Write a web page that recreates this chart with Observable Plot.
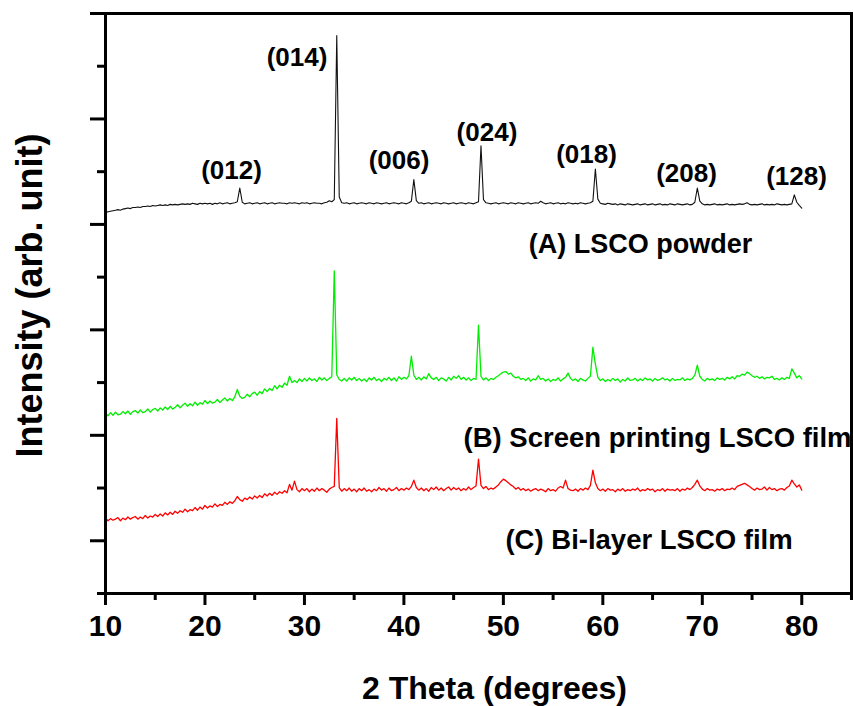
<!DOCTYPE html>
<html>
<head>
<meta charset="utf-8">
<script src="https://cdn.jsdelivr.net/npm/d3@7"></script>
<script src="https://cdn.jsdelivr.net/npm/@observablehq/plot@0.6"></script>
<style>
  html, body { margin: 0; padding: 0; background: #fff; }
  svg { display: block; }
</style>
</head>
<body>
<div id="chart"></div>
<script>
// 2θ scan positions (degrees)
const twoTheta = [
  10,10.25,10.5,10.75, 11,11.25,11.5,11.75, 12,12.25,12.5,12.75, 13,13.25,13.5,13.75,
  14,14.25,14.5,14.75, 15,15.25,15.5,15.75, 16,16.25,16.5,16.75, 17,17.25,17.5,17.75,
  18,18.25,18.5,18.75, 19,19.25,19.5,19.75, 20,20.25,20.5,20.75, 21,21.25,21.5,21.75,
  22,22.25,22.5,22.75, 23,23.25,23.5,23.75, 24,24.25,24.5,24.75, 25,25.25,25.5,25.75,
  26,26.25,26.5,26.75, 27,27.25,27.5,27.75, 28,28.25,28.5,28.75, 29,29.25,29.5,29.75,
  30,30.25,30.5,30.75, 31,31.25,31.5,31.75, 32,32.25,32.5,32.75, 33,33.25,33.5,33.75,
  34,34.25,34.5,34.75, 35,35.25,35.5,35.75, 36,36.25,36.5,36.75, 37,37.25,37.5,37.75,
  38,38.25,38.5,38.75, 39,39.25,39.5,39.75, 40,40.25,40.5,40.75, 41,41.25,41.5,41.75,
  42,42.25,42.5,42.75, 43,43.25,43.5,43.75, 44,44.25,44.5,44.75, 45,45.25,45.5,45.75,
  46,46.25,46.5,46.75, 47,47.25,47.5,47.75, 48,48.25,48.5,48.75, 49,49.25,49.5,49.75,
  50,50.25,50.5,50.75, 51,51.25,51.5,51.75, 52,52.25,52.5,52.75, 53,53.25,53.5,53.75,
  54,54.25,54.5,54.75, 55,55.25,55.5,55.75, 56,56.25,56.5,56.75, 57,57.25,57.5,57.75,
  58,58.25,58.5,58.75, 59,59.25,59.5,59.75, 60,60.25,60.5,60.75, 61,61.25,61.5,61.75,
  62,62.25,62.5,62.75, 63,63.25,63.5,63.75, 64,64.25,64.5,64.75, 65,65.25,65.5,65.75,
  66,66.25,66.5,66.75, 67,67.25,67.5,67.75, 68,68.25,68.5,68.75, 69,69.25,69.5,69.75,
  70,70.25,70.5,70.75, 71,71.25,71.5,71.75, 72,72.25,72.5,72.75, 73,73.25,73.5,73.75,
  74,74.25,74.5,74.75, 75,75.25,75.5,75.75, 76,76.25,76.5,76.75, 77,77.25,77.5,77.75,
  78,78.25,78.5,78.75, 79,79.25,79.5,79.75, 80
];

// (A) LSCO powder (arb. unit, offset)
const powderA = [
  7.22,7.24,7.25,7.26, 7.27,7.28,7.27,7.29, 7.30,7.31,7.30,7.32, 7.32,7.33,7.32,7.34,
  7.34,7.35,7.34,7.36, 7.35,7.36,7.37,7.36, 7.37,7.36,7.38,7.37, 7.38,7.37,7.38,7.39,
  7.38,7.39,7.38,7.40, 7.39,7.38,7.40,7.39, 7.40,7.39,7.40,7.38, 7.40,7.39,7.41,7.39,
  7.40,7.41,7.39,7.40, 7.41,7.43,7.69,7.42, 7.39,7.40,7.41,7.39, 7.40,7.41,7.39,7.40,
  7.41,7.39,7.40,7.41, 7.39,7.40,7.41,7.40, 7.40,7.39,7.41,7.40, 7.41,7.40,7.39,7.41,
  7.40,7.41,7.39,7.40, 7.41,7.40,7.40,7.39, 7.41,7.42,7.45,7.43, 7.47,10.58,7.52,7.41,
  7.40,7.41,7.39,7.40, 7.41,7.39,7.40,7.41, 7.40,7.39,7.41,7.40, 7.39,7.41,7.40,7.39,
  7.40,7.41,7.39,7.40, 7.41,7.40,7.39,7.41, 7.40,7.39,7.41,7.44, 7.85,7.45,7.40,7.41,
  7.39,7.40,7.41,7.39, 7.40,7.41,7.40,7.39, 7.41,7.40,7.39,7.40, 7.41,7.39,7.40,7.41,
  7.40,7.39,7.41,7.40, 7.39,7.41,7.43,8.49, 7.47,7.41,7.40,7.39, 7.40,7.41,7.39,7.40,
  7.41,7.40,7.39,7.41, 7.40,7.39,7.41,7.40, 7.39,7.40,7.41,7.39, 7.40,7.41,7.40,7.44,
  7.41,7.39,7.40,7.41, 7.39,7.40,7.41,7.39, 7.40,7.39,7.41,7.40, 7.39,7.40,7.39,7.41,
  7.40,7.39,7.40,7.41, 7.44,8.05,7.48,7.40, 7.39,7.38,7.40,7.39, 7.38,7.39,7.37,7.39,
  7.38,7.37,7.39,7.38, 7.37,7.38,7.39,7.37, 7.38,7.39,7.37,7.38, 7.39,7.37,7.38,7.39,
  7.37,7.38,7.37,7.39, 7.38,7.37,7.39,7.38, 7.37,7.38,7.39,7.37, 7.38,7.42,7.69,7.44,
  7.39,7.37,7.38,7.37, 7.38,7.39,7.37,7.38, 7.37,7.38,7.39,7.37, 7.38,7.37,7.38,7.39,
  7.38,7.39,7.41,7.38, 7.37,7.38,7.37,7.38, 7.39,7.37,7.38,7.37, 7.38,7.37,7.39,7.38,
  7.37,7.38,7.37,7.38, 7.39,7.56,7.42,7.36, 7.31
];

// (B) Screen printing LSCO film
const screenB = [
  3.42,3.37,3.43,3.38, 3.44,3.39,3.40,3.45, 3.41,3.46,3.40,3.45, 3.47,3.42,3.48,3.43,
  3.45,3.50,3.44,3.49, 3.51,3.46,3.52,3.48, 3.54,3.49,3.55,3.50, 3.53,3.58,3.52,3.57,
  3.61,3.55,3.60,3.56, 3.63,3.57,3.62,3.59, 3.66,3.60,3.65,3.61, 3.63,3.68,3.62,3.67,
  3.71,3.65,3.70,3.66, 3.73,3.87,3.74,3.70, 3.72,3.78,3.73,3.79, 3.82,3.76,3.83,3.79,
  3.88,3.83,3.89,3.85, 3.94,3.88,3.95,3.91, 3.99,3.95,4.12,4.00, 4.04,4.00,4.07,4.02,
  4.08,4.03,4.09,4.04, 4.07,4.02,4.10,4.05, 4.09,4.04,4.08,4.11, 6.12,4.15,4.06,4.03,
  4.08,4.03,4.09,4.05, 4.10,4.04,4.08,4.03, 4.07,4.02,4.09,4.05, 4.10,4.04,4.07,4.02,
  4.08,4.05,4.10,4.04, 4.09,4.03,4.11,4.06, 4.10,4.07,4.13,4.50, 4.14,4.06,4.10,4.05,
  4.11,4.07,4.17,4.09, 4.06,4.10,4.04,4.09, 4.07,4.03,4.10,4.05, 4.12,4.08,4.13,4.06,
  4.10,4.05,4.09,4.04, 4.08,4.06,5.09,4.12, 4.05,4.09,4.04,4.08, 4.06,4.10,4.13,4.17,
  4.20,4.21,4.16,4.18, 4.12,4.09,4.11,4.06, 4.08,4.04,4.09,4.03, 4.07,4.05,4.13,4.06,
  4.08,4.03,4.07,4.02, 4.06,4.04,4.09,4.03, 4.07,4.10,4.18,4.08, 4.04,4.07,4.02,4.08,
  4.05,4.03,4.08,4.12, 4.67,4.35,4.10,4.04, 4.07,4.02,4.06,4.03, 4.08,4.04,4.07,4.01,
  4.06,4.03,4.09,4.04, 4.05,4.08,4.03,4.07, 4.04,4.09,4.05,4.07, 4.03,4.08,4.04,4.06,
  4.09,4.05,4.07,4.03, 4.08,4.04,4.06,4.05, 4.09,4.04,4.07,4.05, 4.08,4.14,4.33,4.12,
  4.06,4.03,4.08,4.05, 4.07,4.04,4.09,4.06, 4.08,4.05,4.10,4.07, 4.11,4.07,4.13,4.12,
  4.16,4.14,4.20,4.17, 4.13,4.10,4.12,4.08, 4.11,4.07,4.10,4.09, 4.12,4.06,4.08,4.05,
  4.09,4.06,4.10,4.08, 4.26,4.18,4.09,4.13, 4.07
];

// (C) Bi-layer LSCO film
const bilayerC = [
  1.43,1.38,1.42,1.39, 1.41,1.44,1.38,1.43, 1.40,1.45,1.41,1.44, 1.46,1.41,1.45,1.42,
  1.48,1.43,1.47,1.45, 1.50,1.46,1.51,1.47, 1.53,1.49,1.54,1.50, 1.56,1.52,1.57,1.54,
  1.60,1.55,1.59,1.57, 1.63,1.58,1.64,1.60, 1.67,1.62,1.66,1.64, 1.70,1.65,1.69,1.67,
  1.73,1.69,1.74,1.71, 1.76,1.84,1.78,1.75, 1.81,1.78,1.83,1.79, 1.85,1.81,1.86,1.82,
  1.89,1.85,1.90,1.86, 1.92,1.88,1.93,1.90, 1.95,1.91,2.07,1.96, 2.13,1.97,1.93,1.99,
  1.95,1.99,1.93,1.98, 1.94,2.00,1.95,1.99, 1.96,1.92,1.98,2.01, 2.03,3.32,2.01,1.94,
  1.99,1.95,2.00,1.94, 1.98,1.93,1.99,1.95, 2.00,1.94,1.97,1.93, 1.98,1.95,2.01,1.96,
  1.99,1.94,2.00,1.95, 1.97,2.01,1.95,1.99, 1.96,2.00,1.97,2.03, 2.15,2.01,1.96,2.00,
  1.95,1.99,1.94,2.01, 1.97,2.02,1.96,2.00, 1.95,1.99,2.02,1.96, 2.01,1.97,2.00,1.95,
  1.99,1.96,2.02,1.97, 2.01,2.04,2.55,2.05, 1.99,2.03,1.97,2.00, 1.98,2.02,2.06,2.12,
  2.17,2.14,2.10,2.06, 2.03,1.98,2.01,1.96, 1.99,1.95,1.98,1.94, 1.97,1.99,1.95,1.98,
  1.96,1.93,1.99,1.95, 1.97,1.94,2.00,2.03, 2.00,2.15,1.99,1.96, 1.95,1.98,1.94,1.99,
  1.96,2.00,1.97,2.05, 2.34,2.10,1.99,1.95, 1.98,1.94,1.99,1.96, 1.97,1.93,1.98,1.95,
  1.99,1.94,1.97,1.95, 1.98,1.96,2.00,1.94, 1.97,1.95,1.99,1.96, 1.98,1.93,1.97,1.95,
  1.99,1.94,1.98,1.96, 1.97,1.95,1.99,1.94, 1.98,1.96,2.00,1.97, 2.01,2.07,2.15,2.04,
  1.98,1.95,1.99,1.96, 1.97,1.94,1.98,1.96, 1.99,1.95,1.98,1.97, 2.00,1.97,2.03,2.05,
  2.07,2.09,2.06,2.03, 1.99,1.96,2.00,1.97, 1.98,2.02,1.96,2.01, 1.97,1.99,1.95,1.98,
  1.99,1.96,2.01,2.04, 2.15,2.08,2.02,2.06, 1.96
];

// Axis ticks
const xMajorTicks = [10, 20, 30, 40, 50, 60, 70, 80];
const xMinorTicks = [15, 25, 35, 45, 55, 65, 75, 85];
const yMajorTicks = [1, 3, 5, 7, 9, 11];
const yMinorTicks = [0, 2, 4, 6, 8, 10];

// Peak (hkl) labels and their positions in data units
const peakNames = ["(012)", "(014)", "(006)", "(024)", "(018)", "(208)", "(128)"];
const peakLabelTheta = [22.67, 29.25, 39.51, 48.35, 58.36, 68.41, 79.47];
const peakLabelLevel = [8.02, 10.17, 8.21, 8.74, 8.32, 7.96, 7.90];

// Sample labels
const sampleNames = ["(A) LSCO powder", "(B) Screen printing LSCO film", "(C) Bi-layer LSCO film"];
const sampleLabelTheta = [63.78, 45.99, 50.21];
const sampleLabelLevel = [6.62, 2.94, 1.02];
const sampleAnchors = ["middle", "start", "start"];

const toRows = (ys) => twoTheta.map((t, i) => ({t, v: ys[i]}));
const rowsA = toRows(powderA);
const rowsB = toRows(screenB);
const rowsC = toRows(bilayerC);
const peakRows = peakNames.map((name, i) => ({name, t: peakLabelTheta[i], v: peakLabelLevel[i]}));
const sampleRows = sampleNames.map((name, i) => ({name, t: sampleLabelTheta[i], v: sampleLabelLevel[i], a: sampleAnchors[i]}));

const font = "Liberation Sans, Arial, Helvetica, sans-serif";

const chart = Plot.plot({
  width: 853,
  height: 706,
  marginLeft: 105,
  marginRight: 2,
  marginTop: 13,
  marginBottom: 113,
  style: {fontFamily: font, background: "#fff", color: "#000", overflow: "hidden"},
  x: {domain: [10, 85]},
  y: {domain: [0, 11]},
  marks: [
    Plot.line(rowsC, {x: "t", y: "v", stroke: "#ff0000", strokeWidth: 1.3}),
    Plot.line(rowsB, {x: "t", y: "v", stroke: "#00ee00", strokeWidth: 1.3}),
    Plot.line(rowsA, {x: "t", y: "v", stroke: "#111", strokeWidth: 1.1}),
    Plot.axisX({ticks: xMinorTicks, tickSize: 7, strokeWidth: 3, tickFormat: () => "", label: null}),
    Plot.axisX({ticks: xMajorTicks, tickSize: 12, tickPadding: 9, strokeWidth: 3,
      fontSize: 30, fontWeight: "bold", tickFormat: (d) => String(d), label: null}),
    Plot.axisY({ticks: yMinorTicks, tickSize: 8, strokeWidth: 3, tickFormat: () => "", label: null}),
    Plot.axisY({ticks: yMajorTicks, tickSize: 15, strokeWidth: 3, tickFormat: () => "", label: null}),
    Plot.frame({stroke: "#000", strokeWidth: 3}),
    Plot.text(peakRows, {x: "t", y: "v", text: "name", fontSize: 26, fontWeight: "bold", fill: "#000"}),
    Plot.text(sampleRows.filter(d => d.a === "middle"), {x: "t", y: "v", text: "name", textAnchor: "middle",
      fontSize: 27, fontWeight: "bold", fill: "#000"}),
    Plot.text(sampleRows.filter(d => d.a === "start"), {x: "t", y: "v", text: "name", textAnchor: "start",
      fontSize: 27.5, fontWeight: "bold", fill: "#000"}),
    Plot.text(["2 Theta (degrees)"], {frameAnchor: "bottom", dx: 16, dy: 95, lineAnchor: "middle",
      textAnchor: "middle", fontSize: 32, fontWeight: "bold", fill: "#000"}),
    Plot.text(["Intensity (arb. unit)"], {frameAnchor: "left", dx: -75, dy: -8, rotate: -90,
      lineAnchor: "middle", textAnchor: "middle", fontSize: 36, fontWeight: "bold", fill: "#000"})
  ]
});
document.getElementById("chart").appendChild(chart);
</script>
</body>
</html>
